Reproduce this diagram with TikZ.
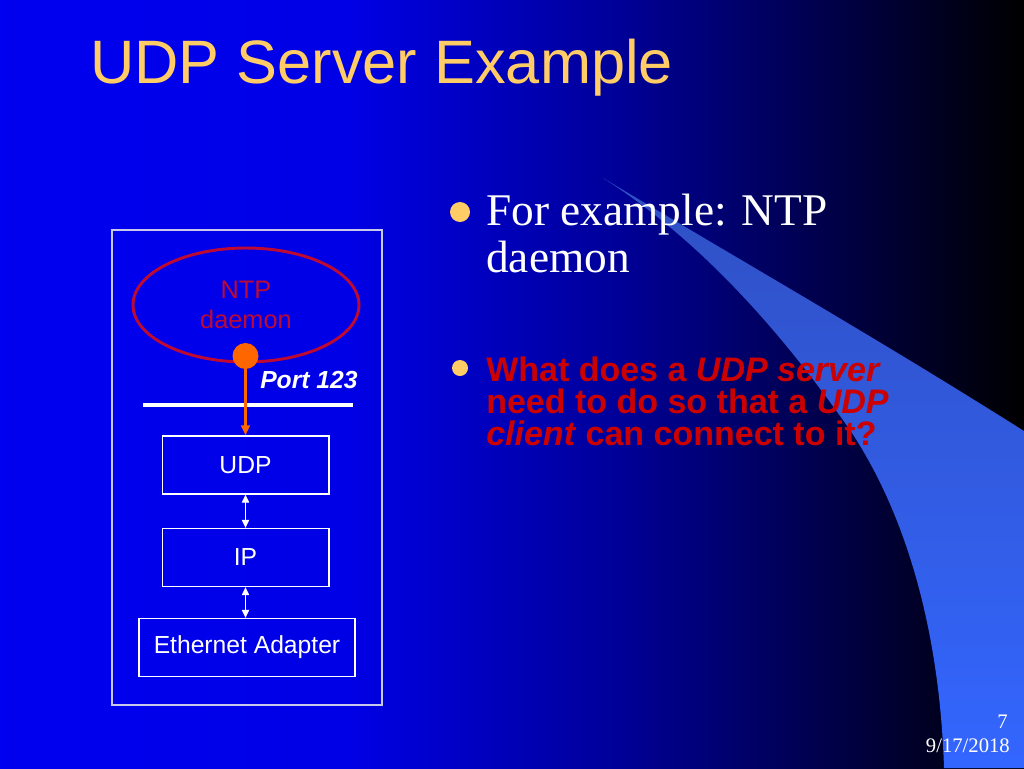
\documentclass[tikz,border=0pt]{standalone}
\usepackage{fontspec}
\setmainfont{Liberation Serif}
\setsansfont{Liberation Sans}
\usepackage{tikz}
\usetikzlibrary{shapes.geometric, arrows.meta}

\definecolor{titlegold}{RGB}{255,204,102}
\definecolor{ntpred}{RGB}{190,10,50}
\definecolor{qred}{RGB}{204,0,0}
\definecolor{portorange}{RGB}{255,102,0}
\definecolor{swoosh}{RGB}{51,102,255}
\definecolor{swooshtip}{RGB}{48,80,195}
\definecolor{framegray}{RGB}{200,200,235}

\pgfdeclarehorizontalshading{slidebg}{100bp}{rgb(0bp)=(0,0,0.94); rgb(25bp)=(0,0,0.94);
  rgb(42bp)=(0,0,0.9); rgb(55bp)=(0,0,0.6); rgb(65bp)=(0,0,0.3); rgb(75bp)=(0,0,0); rgb(100bp)=(0,0,0)}

\begin{document}
\begin{tikzpicture}[x=0.75pt, y=-0.75pt,
  layer/.style={draw=white, line width=1pt, minimum height=43.5pt, inner sep=0pt,
    text=white, font=\sffamily\fontsize{18.5}{22}\selectfont},
  txt/.style={anchor=base west, inner sep=0pt},
  bullet/.style={circle, fill=titlegold, inner sep=0pt, minimum size=#1},
  stackarrow/.style={{Triangle[length=6pt, width=5.5pt]}-{Triangle[length=6pt, width=5.5pt]}, white, line width=0.8pt}]
  \useasboundingbox (0,0) rectangle (1024,768);
  \shade[shading=slidebg] (0,0) rectangle (1024,768);
  \shade[top color=swooshtip, middle color=swoosh, bottom color=swoosh]
    (603,178) .. controls (700,240) and (780,330) .. (850,430)
    .. controls (910,520) and (940,640) .. (944,768) -- (1024,768) -- (1024,431)
    .. controls (880,340) and (740,260) .. (603,178) -- cycle;

  % title
  \node[txt, text=titlegold, font=\sffamily\fontsize{46}{50}\selectfont]
    (title) at (90,83) {UDP Server Example};

  % bullets
  \node[bullet=15pt] (dot1) at (460,212) {};
  \node[txt, align=left, text=white, font=\fontsize{34}{35}\selectfont]
    (item1) at (486,272) {For example: NTP\\daemon};
  \node[bullet=12pt] (dot2) at (460,368) {};
  \node[txt, align=left, text=qred, font=\sffamily\bfseries\fontsize{25.5}{24}\selectfont]
    (item2) at (486,445) {What does a \textit{UDP server}\\need to do so that a \textit{UDP}\\\textit{client} can connect to it?};

  % stack
  \draw[framegray, line width=1pt] (112,230) rectangle (382,705);
  \node[ellipse, draw=ntpred, line width=2.2pt, minimum width=169.5pt, minimum height=85.5pt,
    text=ntpred, align=center, font=\sffamily\fontsize{19}{23}\selectfont] (ntp) at (246,305) {NTP\\daemon};
  \node[txt, text=white, font=\sffamily\bfseries\itshape\fontsize{18.5}{22}\selectfont]
    (portlbl) at (260,388) {Port 123};
  \draw[white, line width=3pt] (143,405) -- (353,405);
  \node[layer, minimum width=125pt] (udp) at (245.5,465) {UDP};
  \node[layer, minimum width=125pt] (ip) at (245.5,557.5) {IP};
  \node[layer, minimum width=162pt] (eth) at (247,647.5) {Ethernet Adapter};
  \node[circle, fill=portorange, inner sep=0pt, minimum size=19.5pt] (port) at (245.5,356) {};
  \draw[-{Triangle[length=7.5pt, width=6.5pt]}, portorange, line width=2pt] (port) -- (udp.north);
  \draw[stackarrow] (udp) -- (ip);
  \draw[stackarrow] (ip.south) -- (ip.south |- eth.north);

  % footer
  \node[anchor=base east, inner sep=0pt, text=white, font=\fontsize{15.5}{18}\selectfont] (pagenum) at (1008,728) {7};
  \node[anchor=base east, inner sep=0pt, text=white, font=\fontsize{15.5}{18}\selectfont] (date) at (1010,752) {9/17/2018};
\end{tikzpicture}
\end{document}
